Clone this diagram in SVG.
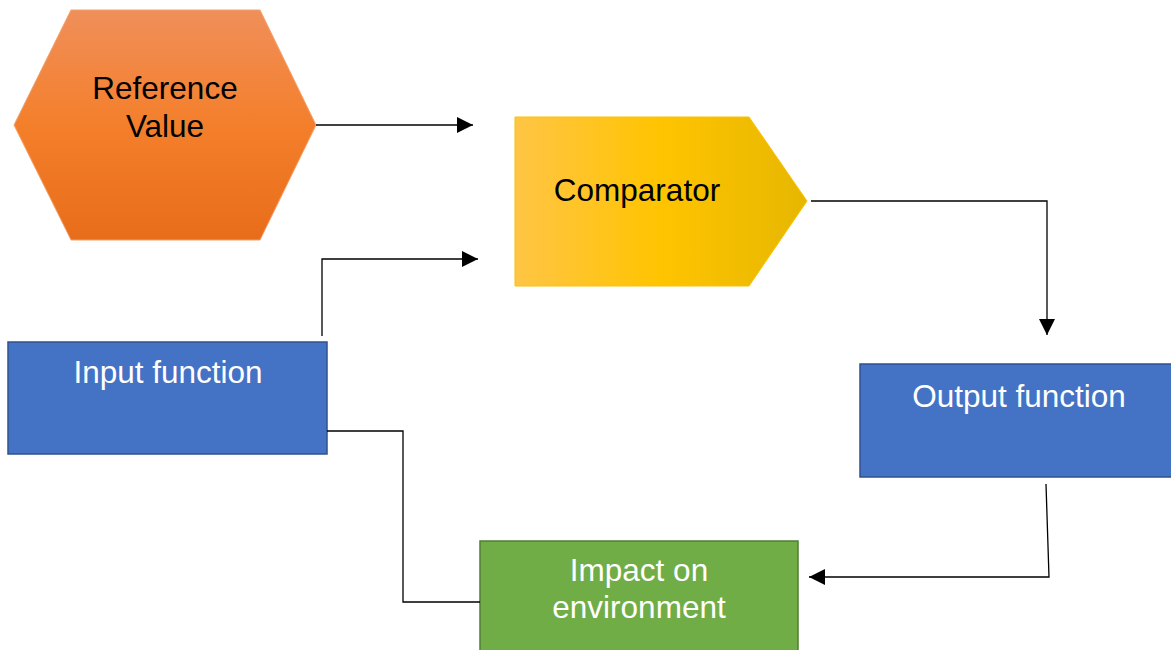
<svg xmlns="http://www.w3.org/2000/svg" width="1171" height="650" viewBox="0 0 1171 650">
  <defs>
    <linearGradient id="gradOrange" x1="0" y1="0" x2="0" y2="1">
      <stop offset="0" stop-color="#F08F5A"/>
      <stop offset="0.5" stop-color="#F47F2B"/>
      <stop offset="1" stop-color="#E86D1B"/>
    </linearGradient>
    <linearGradient id="gradGold" x1="0" y1="0" x2="1" y2="0">
      <stop offset="0" stop-color="#FFC545"/>
      <stop offset="0.5" stop-color="#FFC400"/>
      <stop offset="1" stop-color="#E6B700"/>
    </linearGradient>
    <marker id="arrow" viewBox="0 0 16 16" refX="16" refY="8" markerWidth="16" markerHeight="16" markerUnits="userSpaceOnUse" orient="auto">
      <path d="M0,0 L16,8 L0,16 Z" fill="#000"/>
    </marker>
    <style>
      .label { font-family: "Liberation Sans", Arial, sans-serif; font-size: 31.5px; text-anchor: middle; }
      .dark { fill: #000; }
      .light { fill: #fff; }
      .blue { fill: #4472C4; stroke: #2F528F; stroke-width: 1.5; }
      .green { fill: #70AD47; stroke: #507E32; stroke-width: 1.5; }
      .conn { fill: none; stroke: #000; stroke-width: 1.3; }
    </style>
  </defs>

  <rect width="1171" height="650" fill="#fff"/>

  <g id="reference-value">
    <polygon points="71,10 260,10 316,125 260,240 71,240 14,125" fill="url(#gradOrange)" stroke="#F4A06A" stroke-width="1"/>
    <text class="label dark" x="165" y="99">Reference</text>
    <text class="label dark" x="165" y="137">Value</text>
  </g>

  <g id="comparator">
    <polygon points="515,117 749,117 807,201 749,286 515,286" fill="url(#gradGold)" stroke="#FFC000" stroke-width="1"/>
    <text class="label dark" x="637" y="201">Comparator</text>
  </g>

  <g id="input-function">
    <rect class="blue" x="8" y="342" width="319" height="112"/>
    <text class="label light" x="168" y="383">Input function</text>
  </g>

  <g id="output-function">
    <rect class="blue" x="860" y="364" width="318" height="113"/>
    <text class="label light" x="1019" y="407">Output function</text>
  </g>

  <g id="impact-on-environment">
    <rect class="green" x="480" y="541" width="318" height="120"/>
    <text class="label light" x="639" y="581">Impact on</text>
    <text class="label light" x="639" y="618">environment</text>
  </g>

  <g id="connectors">
    <path class="conn" d="M316,125 H473" marker-end="url(#arrow)"/>
    <path class="conn" d="M322,336 V259 H478" marker-end="url(#arrow)"/>
    <path class="conn" d="M811,201 H1047 V335" marker-end="url(#arrow)"/>
    <path class="conn" d="M1046,484 L1049,577 H809" marker-end="url(#arrow)"/>
    <path class="conn" d="M327,431 H403 V602 H480"/>
  </g>
</svg>
